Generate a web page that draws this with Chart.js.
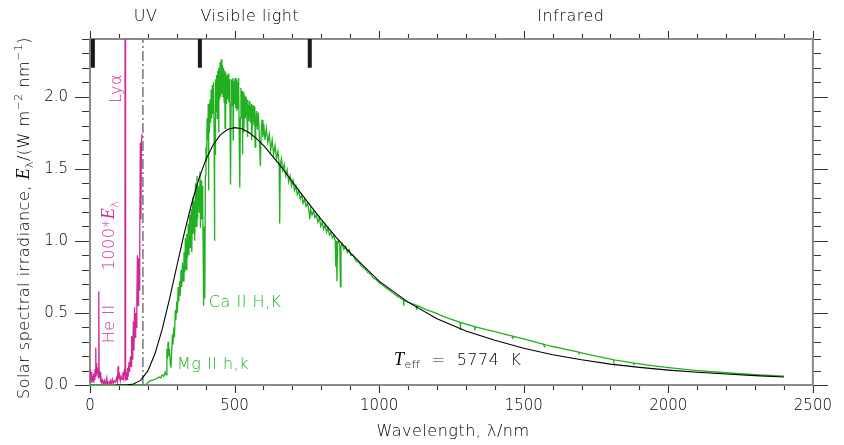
<!DOCTYPE html>
<html><head><meta charset="utf-8">
<script src="https://cdn.jsdelivr.net/npm/chart.js@4/dist/chart.umd.min.js"></script>
<style>html,body{margin:0;padding:0;background:#fff}canvas{display:block}</style>
</head><body>
<canvas id="c" width="844" height="445"></canvas>
<script>
// ---------- data ----------
// wavelength (nm), 1000 * E_lambda (W m^-2 nm^-1)  -- EUV/FUV part, magenta
const euvSpectrum = [[0,0.05],[1,0.11],[2,0.03],[3,0.07],[5,0.02],[6,0.09],[8,0.03],[10,0.06],[12,0.02],[13,0.08],[15,0.04],[17,0.11],[19,0.06],[20,0.26],[21,0.07],[23,0.15],[25,0.08],[27,0.12],[29,0.05],[30.4,0.65],[31.5,0.1],[33,0.05],[35,0.09],[37,0.02],[39,0.04],[41,0.01],[44,0.03],[47,0.01],[50,0.03],[52,0.01],[55,0.02],[58,0.05],[60,0.01],[63,0.02],[67,0.01],[70,0.03],[73,0.005],[77,0.04],[80,0.01],[84,0.03],[88,0.02],[92,0.05],[95,0.02],[97,0.13],[99,0.04],[102,0.07],[105,0.03],[108,0.06],[111,0.04],[114,0.09],[117,0.05],[119,0.11],[121,0.06],[121.6,7],[122.2,0.06],[124,0.03],[126,0.07],[128,0.04],[130,0.12],[132,0.06],[135,0.16],[137,0.09],[140,0.2],[142,0.13],[144,0.34],[146,0.18],[148,0.26],[150,0.44],[152,0.24],[154,0.54],[156,0.33],[158,0.5],[160,0.4],[162,0.6],[164,0.9],[166,0.55],[168,0.88],[170,0.66],[172,0.98],[174,1.68],[176,1.15],[178,1.7],[180,1.74]];

// wavelength (nm), E_lambda (W m^-2 nm^-1) -- measured solar spectrum, green
const solarSpectrum = [[0,0.002],[100,0.002],[150,0.003],[195,0.005],[200,0.015],[205,0.025],[210,0.03],[220,0.035],[230,0.045],[240,0.055],[245,0.05],[250,0.07],[255,0.06],[260,0.09],[263,0.07],[266,0.25],[268,0.18],[270,0.3],[272,0.2],[275,0.25],[278,0.14],[280,0.12],[282,0.2],[285,0.35],[287,0.28],[290,0.4],[292,0.33],[295,0.52],[297,0.45],[300,0.58],[302,0.5],[305,0.68],[307,0.58],[310,0.72],[312,0.62],[315,0.8],[317,0.68],[320,0.85],[322,0.72],[325,0.92],[327,0.78],[330,1.02],[332,0.8],[335,1.05],[337,0.88],[340,1.12],[342,0.9],[345,1.18],[347,0.95],[350,1.22],[352,0.92],[355,1.3],[357,1.05],[360,1.28],[362,1.0],[365,1.4],[367,1.1],[370,1.45],[372,1.15],[375,1.38],[378,1.2],[380,1.48],[382,1.09],[384,1.42],[386,1.15],[388,1.38],[390,1.25],[393,0.55],[395,1.1],[397,0.6],[399,1.45],[401,1.65],[403,1.55],[405,1.85],[407,1.7],[409,1.95],[410,1.35],[411,1.9],[413,1.75],[415,1.98],[417,1.82],[419,2.05],[421,1.85],[423,2.08],[425,1.88],[427,2.1],[429,1.8],[430,1.0],[432,1.85],[433,1.6],[434,2.12],[436,1.9],[438,2.15],[440,1.85],[442,2.18],[444,1.95],[445,1.75],[446,2.2],[448,1.98],[450,2.24],[452,2.0],[454,2.26],[456,2.02],[458,2.22],[460,2.0],[462,2.2],[464,1.96],[466,2.18],[467,1.78],[468,2.0],[470,2.17],[472,1.95],[474,2.15],[476,1.98],[478,2.16],[480,1.96],[482,2.12],[484,1.95],[486,1.39],[488,1.95],[490,2.12],[492,1.94],[494,2.13],[495,1.7],[496,1.92],[498,2.11],[500,1.95],[502,2.13],[504,1.92],[506,2.12],[508,1.9],[510,2.1],[512,1.92],[514,2.13],[516,1.7],[518,1.37],[520,1.85],[522,2.06],[524,1.9],[526,2.04],[527,1.6],[529,1.88],[531,2.03],[532,1.75],[533,1.86],[535,2.01],[537,1.85],[540,2.0],[543,1.84],[545,1.72],[546,1.98],[549,1.83],[552,1.97],[555,1.82],[558,1.95],[559,1.7],[561,1.8],[564,1.94],[567,1.8],[570,1.93],[571,1.65],[573,1.78],[576,1.9],[579,1.77],[582,1.89],[585,1.76],[589,1.52],[592,1.76],[595,1.84],[598,1.72],[601,1.81],[605,1.7],[610,1.78],[615,1.68],[620,1.74],[625,1.63],[630,1.7],[635,1.6],[640,1.66],[645,1.57],[650,1.62],[654,1.54],[656,1.12],[658,1.52],[662,1.57],[667,1.49],[672,1.53],[677,1.45],[682,1.49],[687,1.41],[692,1.45],[697,1.38],[702,1.42],[707,1.35],[712,1.38],[717,1.32],[722,1.35],[727,1.29],[732,1.32],[737,1.26],[742,1.29],[747,1.24],[752,1.26],[757,1.21],[760,1.15],[763,1.22],[768,1.18],[773,1.21],[778,1.16],[783,1.18],[788,1.13],[793,1.16],[798,1.1],[803,1.13],[808,1.08],[813,1.11],[818,1.06],[823,1.09],[828,1.04],[833,1.06],[838,1.02],[843,1.04],[848,1.0],[850,0.82],[852,1.0],[854,0.72],[856,0.99],[860,1.0],[864,0.96],[866,0.68],[868,0.96],[872,0.98],[878,0.94],[884,0.96],[890,0.92],[896,0.94],[902,0.9],[910,0.9],[920,0.86],[930,0.85],[940,0.82],[950,0.81],[960,0.78],[970,0.77],[980,0.74],[990,0.73],[1000,0.71],[1010,0.695],[1020,0.68],[1030,0.665],[1040,0.65],[1050,0.635],[1060,0.62],[1080,0.595],[1084,0.59],[1085,0.55],[1086,0.588],[1100,0.575],[1120,0.56],[1128,0.553],[1129,0.52],[1130,0.552],[1140,0.543],[1160,0.525],[1180,0.51],[1200,0.495],[1220,0.478],[1240,0.462],[1260,0.448],[1280,0.435],[1281,0.38],[1282,0.434],[1300,0.423],[1330,0.405],[1331,0.38],[1332,0.404],[1350,0.395],[1400,0.37],[1450,0.345],[1460,0.34],[1461,0.32],[1462,0.339],[1500,0.32],[1550,0.292],[1570,0.282],[1571,0.265],[1572,0.281],[1600,0.267],[1650,0.245],[1690,0.228],[1691,0.212],[1692,0.227],[1700,0.223],[1750,0.2],[1800,0.18],[1810,0.176],[1811,0.162],[1812,0.175],[1850,0.162],[1880,0.152],[1881,0.138],[1882,0.151],[1900,0.146],[1950,0.133],[2000,0.121],[2050,0.11],[2100,0.1],[2150,0.092],[2200,0.085],[2250,0.078],[2300,0.072],[2350,0.067],[2400,0.062]];

// wavelength (nm), E_lambda -- black body curve, T_eff = 5774 K
const blackBody = [[90,0],[130,0.001],[150,0.0065],[175,0.032],[200,0.098],[225,0.218],[250,0.389],[275,0.597],[300,0.822],[325,1.045],[350,1.247],[375,1.421],[400,1.56],[425,1.663],[450,1.733],[475,1.772],[500,1.785],[525,1.777],[550,1.751],[575,1.711],[600,1.662],[650,1.542],[700,1.41],[750,1.275],[800,1.147],[850,1.027],[900,0.917],[950,0.818],[1000,0.72],[1100,0.575],[1200,0.46],[1300,0.375],[1400,0.31],[1500,0.255],[1600,0.21],[1700,0.175],[1800,0.145],[1900,0.122],[2000,0.103],[2100,0.088],[2200,0.076],[2300,0.065],[2400,0.056]];

// region boundaries (nm) and labels
const boundaryWl = [10, 380, 760];
const boundaryMarkE = [2.2, 2.4];
const regionLabels = ['UV', 'Visible light', 'Infrared'];
const regionLabelWl = [192, 553, 1663];
const uvLimitWl = 183;           // dash-dot line
const uvLimitE = [0, 2.4];

// axes ticks
const xTickValues = [0, 500, 1000, 1500, 2000, 2500];
const xTickLabels = ['0', '500', '1000', '1500', '2000', '2500'];
const yTickValues = [0, 0.5, 1.0, 1.5, 2.0];
const yTickLabels = ['0.0', '0.5', '1.0', '1.5', '2.0'];

// ---------- chart ----------
const SANS = '"DejaVu Sans", "Liberation Sans", sans-serif';
const W = '200 ';
const SERIF_I = 'italic 18px "Liberation Serif", "DejaVu Serif", serif';
const TXT = '#000';
const GREEN = '#22b022';
const MAGENTA = '#cf2a96';

const toPts = arr => arr.map(p => ({x: p[0], y: p[1]}));
const boundaryPts = [];
boundaryWl.forEach(w => { boundaryPts.push({x: w, y: boundaryMarkE[0]}, {x: w, y: boundaryMarkE[1]}, {x: w, y: null}); });

function drawRich(ctx, parts, x, y, align) {
  let w = 0;
  for (const p of parts) { ctx.font = p.f; w += ctx.measureText(p.t).width; }
  let cx = align === 'center' ? x - w / 2 : x;
  for (const p of parts) {
    ctx.font = p.f;
    ctx.fillText(p.t, cx, y + (p.dy || 0));
    cx += ctx.measureText(p.t).width;
  }
}

const decorPlugin = {
  id: 'decor',
  beforeDatasetsDraw(chart) {
    const {ctx, chartArea: a, scales: {x, y}} = chart;
    ctx.save();
    ctx.strokeStyle = '#8a8a8a';
    ctx.lineWidth = 2;
    ctx.strokeRect(a.left, a.top, a.right - a.left, a.bottom - a.top);
    ctx.strokeStyle = '#333';
    ctx.lineWidth = 1.1;
    ctx.beginPath();
    for (let v = 0; v <= 2500; v += 100) {
      const px = Math.round(x.getPixelForValue(v)) + 0.5;
      const L = v % 500 === 0 ? 7 : 4;
      ctx.moveTo(px, a.bottom + 1); ctx.lineTo(px, a.bottom + 1 + L);
      ctx.moveTo(px, a.top - 1); ctx.lineTo(px, a.top - 1 - L);
    }
    for (let i = 0; i <= 24; i++) {
      const py = Math.round(y.getPixelForValue(i / 10)) + 0.5;
      const L = i % 5 === 0 ? 14 : 7;
      ctx.moveTo(a.left - 1, py); ctx.lineTo(a.left - 1 - L, py);
      ctx.moveTo(a.right + 1, py); ctx.lineTo(a.right + 1 + L, py);
    }
    ctx.stroke();
    ctx.restore();
  },
  afterDraw(chart) {
    const {ctx, scales: {x, y}} = chart;
    ctx.save();
    ctx.textBaseline = 'alphabetic';
    ctx.textAlign = 'left';
    ctx.letterSpacing = '0.5px';
    ctx.fillStyle = TXT;
    const F = W + '16px ' + SANS, FS = W + '11px ' + SANS;
    regionLabels.forEach((t, i) => {
      drawRich(ctx, [{t, f: F}], x.getPixelForValue(regionLabelWl[i]), 21, 'center');
    });
    drawRich(ctx, [{t: 'Wavelength, λ/nm', f: F}], 453, 436, 'center');
    ctx.save();
    ctx.translate(28.5, 218);
    ctx.rotate(-Math.PI / 2);
    drawRich(ctx, [
      {t: 'Solar spectral irradiance, ', f: F},
      {t: 'E', f: SERIF_I},
      {t: 'λ', f: FS, dy: 4},
      {t: '/(W m', f: F},
      {t: '−2', f: FS, dy: -7},
      {t: ' nm', f: F},
      {t: '−1', f: FS, dy: -7},
      {t: ')', f: F}
    ], 0, 0, 'center');
    ctx.restore();
    ctx.fillStyle = MAGENTA;
    const rot = (parts, wl, e) => {
      ctx.save();
      ctx.translate(x.getPixelForValue(wl), y.getPixelForValue(e));
      ctx.rotate(-Math.PI / 2);
      drawRich(ctx, parts, 0, 0, 'center');
      ctx.restore();
    };
    rot([{t: 'Lyα', f: F}], 106, 2.057);
    rot([{t: '1000*', f: F}, {t: 'E', f: SERIF_I}, {t: 'λ', f: FS, dy: 4}], 83, 1.037);
    rot([{t: 'He II', f: F}], 83, 0.425);
    ctx.fillStyle = GREEN;
    drawRich(ctx, [{t: 'Ca II H,K', f: F}], x.getPixelForValue(411), y.getPixelForValue(0.541), 'left');
    drawRich(ctx, [{t: 'Mg II h,k', f: F}], x.getPixelForValue(301), y.getPixelForValue(0.11), 'left');
    ctx.fillStyle = '#000';
    drawRich(ctx, [
      {t: 'T', f: SERIF_I},
      {t: 'eff', f: W + '11px ' + SANS, dy: 3},
      {t: '  =  5774  K', f: F}
    ], x.getPixelForValue(1051), y.getPixelForValue(0.138), 'left');
    ctx.restore();
  }
};

new Chart(document.getElementById('c'), {
  type: 'scatter',
  data: {
    datasets: [
      {data: toPts(blackBody), showLine: true, borderColor: '#000', borderWidth: 1.1, pointRadius: 0, order: 0},
      {data: toPts(euvSpectrum), showLine: true, borderColor: MAGENTA, borderWidth: 1.3, pointRadius: 0, order: 1},
      {data: toPts(solarSpectrum), showLine: true, borderColor: GREEN, borderWidth: 1.3, pointRadius: 0, order: 2},
      {data: [{x: uvLimitWl, y: uvLimitE[0]}, {x: uvLimitWl, y: uvLimitE[1]}], showLine: true, borderColor: '#777', borderWidth: 1.5, borderDash: [10, 3, 2, 3], pointRadius: 0, order: 3},
      {data: boundaryPts, showLine: true, spanGaps: false, borderColor: '#1a1a1a', borderWidth: 4, borderCapStyle: 'butt', pointRadius: 0, order: 4}
    ]
  },
  options: {
    responsive: false,
    animation: false,
    events: [],
    layout: {padding: {top: 39, right: 24, left: 0, bottom: 0}},
    plugins: {legend: {display: false}, tooltip: {enabled: false}},
    elements: {line: {tension: 0}},
    scales: {
      x: {
        type: 'linear', min: 0, max: 2500,
        grid: {display: false, drawTicks: false},
        border: {display: false},
        afterBuildTicks: s => { s.ticks = xTickValues.map(v => ({value: v})); },
        ticks: {
          autoSkip: false, maxRotation: 0, padding: 12, color: TXT,
          font: {family: SANS, size: 15, weight: '200'},
          callback: v => { const i = xTickValues.indexOf(v); return i < 0 ? null : xTickLabels[i]; }
        },
        afterFit: s => { s.height = 60; }
      },
      y: {
        type: 'linear', min: 0, max: 2.4,
        grid: {display: false, drawTicks: false},
        border: {display: false},
        afterBuildTicks: s => { s.ticks = yTickValues.map(v => ({value: v})); },
        ticks: {
          autoSkip: false, padding: 22, color: TXT,
          font: {family: SANS, size: 15, weight: '200'},
          callback: v => { const i = yTickValues.indexOf(v); return i < 0 ? null : yTickLabels[i]; }
        },
        afterFit: s => { s.width = 90; }
      }
    }
  },
  plugins: [decorPlugin]
});
</script>
</body></html>
